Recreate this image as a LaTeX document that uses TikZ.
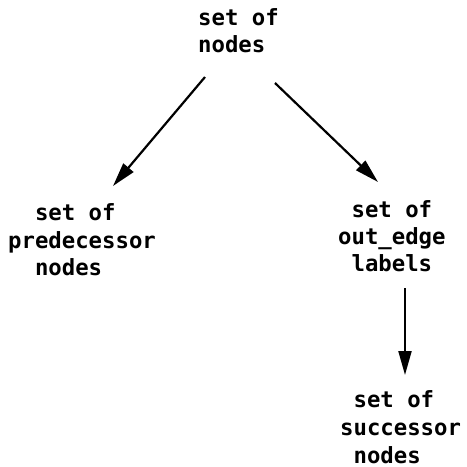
\documentclass[tikz,border=0pt]{standalone}
\usepackage{fontspec}
\setmonofont{DejaVu Sans Mono}
\usetikzlibrary{arrows.meta,calc}
\begin{document}
\begin{tikzpicture}[x=1pt,y=-1pt,
  lbl/.style={anchor=base west,inner sep=0pt,font=\ttfamily\bfseries\fontsize{22.3}{27}\selectfont},
  link/.style={line width=2.2pt,-{Triangle[length=24pt,width=13pt]}}]
\useasboundingbox (0,0) rectangle (467,467);

% root set
\node[lbl] (topA) at (198,25) {set of};
\node[lbl] (topB) at (198,52) {nodes};

% predecessors
\node[lbl] (predA) at (8,220) {\hphantom{xx}set of};
\node[lbl] (predB) at (8,248) {predecessor};
\node[lbl] (predC) at (8,275) {\hphantom{xx}nodes};

% out-edge labels
\node[lbl] (outA) at (338,217) {\hphantom{x}set of};
\node[lbl] (outB) at (338,244) {out\_edge};
\node[lbl] (outC) at (338,271) {\hphantom{x}labels};

% successors
\node[lbl] (sucA) at (340,407) {\hphantom{x}set of};
\node[lbl] (sucB) at (340,435) {successor};
\node[lbl] (sucC) at (340,463) {\hphantom{x}nodes};

% connectors
\draw[link] ($(topB.base west)+(7,25)$) -- ($(predA.base west)+(105,-34)$);
\draw[link] ($(topB.base west)+(77,31)$) -- ($(outA.base west)+(40,-35)$);
\draw[link] ($(outC.base west)+(67,17)$) -- ($(sucA.base west)+(65,-32)$);
\end{tikzpicture}
\end{document}
